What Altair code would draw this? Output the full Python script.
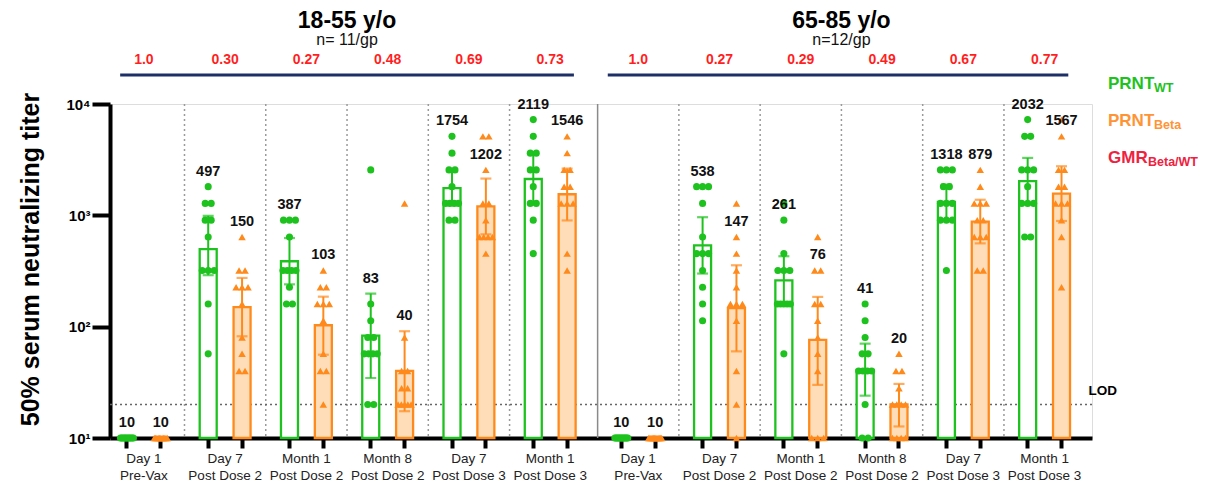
import altair as alt
import pandas as pd

# ---------------- data ----------------
group_keys = ["A", "B"]
group_titles = ["18-55 y/o", "65-85 y/o"]
group_sizes = ["n= 11/gp", "n=12/gp"]
tp_line1 = ["Day 1", "Day 7", "Month 1", "Month 8", "Day 7", "Month 1"]
tp_line2 = ["Pre-Vax", "Post Dose 2", "Post Dose 2", "Post Dose 2", "Post Dose 3", "Post Dose 3"]
variants = ["WT", "Beta"]

gmr_labels = {
    "A": ["1.0", "0.30", "0.27", "0.48", "0.69", "0.73"],
    "B": ["1.0", "0.27", "0.29", "0.49", "0.67", "0.77"],
}
gm = {
    ("A", "WT"): [10, 497, 387, 83, 1754, 2119],
    ("A", "Beta"): [10, 150, 103, 40, 1202, 1546],
    ("B", "WT"): [10, 538, 261, 41, 1318, 2032],
    ("B", "Beta"): [10, 147, 76, 20, 879, 1567],
}
ci_lo = {
    ("A", "WT"): [None, 290, 240, 34.6, 1240, 1250],
    ("A", "Beta"): [None, 82, 56, 17.4, 675, 900],
    ("B", "WT"): [None, 300, 159, 24, 920, 1260],
    ("B", "Beta"): [None, 60, 30, 12.7, 560, 890],
}
ci_hi = {
    ("A", "WT"): [None, 990, 625, 198, 2480, 3600],
    ("A", "Beta"): [None, 274, 186, 91, 2140, 2630],
    ("B", "WT"): [None, 962, 429, 70.4, 1890, 3280],
    ("B", "Beta"): [None, 356, 185, 30.6, 1380, 2760],
}
titers = {
    ("A", "WT"): [
        [10] * 11,
        [1810, 1280, 1280, 905, 905, 640, 320, 320, 320, 160, 57],
        [905, 905, 905, 640, 320, 320, 320, 320, 226, 160, 160],
        [2560, 160, 113, 80, 80, 57, 57, 57, 57, 20, 20],
        [5120, 3620, 2560, 2560, 1810, 1280, 1280, 1280, 1280, 905, 905],
        [7240, 5120, 3620, 3620, 2560, 2560, 1810, 1280, 1280, 905, 453],
    ],
    ("A", "Beta"): [
        [10] * 11,
        [640, 320, 320, 226, 226, 226, 160, 80, 57, 40, 40],
        [320, 226, 226, 160, 160, 160, 113, 57, 40, 40, 20],
        [1280, 80, 40, 40, 28, 28, 20, 20, 20, 20, 20],
        [5120, 5120, 2560, 1280, 1280, 905, 640, 640, 640, 640, 453],
        [5120, 3620, 2560, 2560, 1810, 1810, 1280, 1280, 1280, 453, 320],
    ],
    ("B", "WT"): [
        [10] * 12,
        [1810, 1810, 1810, 1280, 640, 453, 453, 453, 320, 226, 160, 113],
        [1280, 905, 453, 320, 320, 320, 160, 160, 160, 160, 160, 57],
        [160, 113, 80, 57, 57, 40, 40, 40, 40, 20, 10, 10],
        [2560, 2560, 2560, 1810, 1810, 1280, 1280, 1280, 905, 905, 905, 320],
        [7240, 5120, 5120, 2560, 2560, 2560, 1810, 1280, 1280, 1280, 640, 640],
    ],
    ("B", "Beta"): [
        [10] * 12,
        [1280, 640, 453, 320, 226, 160, 160, 160, 113, 40, 20, 10],
        [640, 320, 320, 160, 160, 113, 80, 57, 40, 10, 10, 10],
        [57, 40, 40, 28, 20, 20, 20, 20, 10, 10, 10, 10],
        [2560, 1810, 1280, 1280, 1280, 905, 905, 640, 640, 640, 320, 320],
        [7240, 5120, 2560, 2560, 1810, 1810, 1280, 1280, 1280, 905, 640, 226],
    ],
}
LOD = 20
Y_MIN, Y_MAX = 10, 10000

# ---------------- layout / style ----------------
W, H = 982, 334
N_LEAD = {"A": 2, "B": 3}
N_TRAIL = 4
GREEN = "#1EC21E"
ORANGE = "#FF8A1C"
PEACH = "#FFDDB8"
RED = "#FF1F1F"
NAVY = "#1C2F66"
FONT = "Liberation Sans"

# band slots: WT, 4 inner gaps, Beta, 6 outer gaps ...
slots = []
for g in group_keys:
    slots += [f"{g}|lead{j}" for j in range(N_LEAD[g])]
    for k in range(len(tp_line1)):
        slots.append(f"{g}|{k}|WT")
        slots += [f"{g}|{k}|in{j}" for j in range(4)]
        slots.append(f"{g}|{k}|Beta")
        if k < len(tp_line1) - 1:
            slots += [f"{g}|{k}|gap{j}" for j in range(6)]
    slots += [f"{g}|trail{j}" for j in range(N_TRAIL)]
STEP = W / len(slots)

bar_slots = [s for s in slots if s.endswith("|WT") or s.endswith("|Beta")]

# tables built from the arrays
pt_rows, sum_rows = [], []
for g in group_keys:
    for v in variants:
        for k in range(len(tp_line1)):
            slot = f"{g}|{k}|{v}"
            vals = titers[(g, v)][k]
            for val in vals:
                pt_rows.append({"slot": slot, "variant": v, "value": val})
            hi = ci_hi[(g, v)][k] or gm[(g, v)][k]
            cand = [p for p in vals if p <= 2.35 * hi]
            anchor = max(max(cand) if cand else hi, hi)
            sum_rows.append({
                "slot": slot, "variant": v, "gm": gm[(g, v)][k],
                "lo": ci_lo[(g, v)][k], "hi": ci_hi[(g, v)][k],
                "anchor": anchor, "label": str(gm[(g, v)][k]),
            })
points = pd.DataFrame(pt_rows)
summary = pd.DataFrame(sum_rows)
errs = summary.dropna(subset=["lo"])

pair_rows, div_rows, head_rows = [], [], []
for gi, g in enumerate(group_keys):
    for k in range(len(tp_line1)):
        pair_rows.append({"center": f"{g}|{k}|in2", "gmr": gmr_labels[g][k]})
        if k < len(tp_line1) - 1:
            div_rows.append({"slot": f"{g}|{k}|gap3"})
    head_rows.append({
        "mid": f"{g}|2|gap3", "start": f"{g}|lead1", "end": f"{g}|trail0",
        "title": group_titles[gi], "n": group_sizes[gi],
    })
pairs = pd.DataFrame(pair_rows)
dividers = pd.DataFrame(div_rows)
heads = pd.DataFrame(head_rows)
sep = pd.DataFrame({"slot": ["B|lead0"]})
lod_df = pd.DataFrame({"slot": [slots[-1]], "txt": ["LOD"]})

label_lookup = {}
for g in group_keys:
    for k in range(len(tp_line1)):
        label_lookup[f"{g}|{k}|WT"] = [tp_line1[k], tp_line2[k]]

# ---------------- encodings ----------------
xscale = alt.Scale(type="band", domain=slots, paddingInner=0, paddingOuter=0)
label_expr = (
    "indexof(datum.value, '|WT') > 0 ? "
    + "({" + ",".join(f"'{s}': ['{a}', '{b}']" for s, (a, b) in label_lookup.items()) + "})[datum.value] : ''"
)
xaxis = alt.Axis(
    values=bar_slots, title=None, labelExpr=label_expr, labelAngle=0,
    labelOffset=STEP * 2.5, labelOverlap=False, labelFont=FONT, labelFontSize=13.5,
    labelColor="#222", labelLineHeight=17, labelPadding=3, tickSize=10,
    tickWidth=4, tickColor="black", domainWidth=4, domainColor="black", grid=False,
)
yscale = alt.Scale(type="log", domain=[Y_MIN, Y_MAX], nice=False)
yaxis = alt.Axis(
    values=[10, 100, 1000, 10000],
    labelExpr="'10' + ['\u00b9','\u00b2','\u00b3','\u2074'][round(log(datum.value)/LN10) - 1]",
    title="50% serum neutralizing titer", titleFont=FONT, titleFontSize=25,
    titleFontWeight="bold", titleColor="black", titlePadding=22, titleY=155,
    labelFont=FONT, labelFontSize=15, labelFontWeight="bold", labelColor="black",
    labelPadding=2, tickSize=18, tickWidth=4, tickColor="black",
    domainWidth=4, domainColor="black", grid=False,
)


def X(field, **kw):
    return alt.X(field, type="nominal", scale=xscale, axis=xaxis, **kw)


def Y(field, **kw):
    return alt.Y(field, type="quantitative", scale=yscale, axis=yaxis, **kw)


vscale_fill = alt.Scale(domain=variants, range=["white", PEACH])
vscale_col = alt.Scale(domain=variants, range=[GREEN, ORANGE])

dividers_l = alt.Chart(dividers).mark_rule(
    color="#9a9a9a", strokeWidth=1.5, strokeDash=[2, 3]
).encode(x=X("slot", bandPosition=0), y=alt.datum(Y_MAX, scale=yscale, axis=yaxis), y2=alt.datum(Y_MIN))

sep_l = alt.Chart(sep).mark_rule(color="#8a8a8a", strokeWidth=1.5).encode(
    x=X("slot", bandPosition=0), y=alt.datum(Y_MAX, scale=yscale, axis=yaxis), y2=alt.datum(Y_MIN)
)

lod_rule = alt.Chart(lod_df).mark_rule(color="#666", strokeWidth=1.3, strokeDash=[2, 3]).encode(
    y=alt.datum(LOD, scale=yscale, axis=yaxis)
)
lod_txt = alt.Chart(lod_df).mark_text(
    align="left", baseline="bottom", dy=-6, font=FONT, fontSize=13.5, fontWeight="bold", color="black"
).encode(x=X("slot"), y=alt.datum(LOD, scale=yscale, axis=yaxis), text="txt:N")

bars = alt.Chart(summary).transform_filter("datum.gm > 10").mark_bar(width=17, strokeWidth=2.3).encode(
    x=X("slot"), y=Y("gm"), y2=alt.datum(Y_MIN),
    fill=alt.Fill("variant:N", scale=vscale_fill, legend=None),
    stroke=alt.Stroke("variant:N", scale=vscale_col, legend=None),
)

pts = alt.Chart(points).transform_window(
    r="row_number()", groupby=["slot", "value"]
).transform_joinaggregate(
    n="count()", groupby=["slot", "value"]
).transform_calculate(
    jit="datum.n > 1 ? (2 * (datum.r - 1) / (datum.n - 1) - 1) * min(1, (datum.n - 1) * 0.46) : 0"
).mark_point(filled=True, opacity=1, strokeWidth=0).encode(
    x=X("slot"),
    xOffset=alt.XOffset("jit:Q", scale=alt.Scale(domain=[-1, 1], range=[STEP / 2 - 6.5, STEP / 2 + 6.5])),
    y=Y("value"),
    color=alt.Color("variant:N", scale=vscale_col, legend=None),
    shape=alt.Shape("variant:N", scale=alt.Scale(domain=variants, range=["circle", "triangle-up"]), legend=None),
    size=alt.Size("variant:N", scale=alt.Scale(domain=variants, range=[50, 56]), legend=None),
)

err_rule = alt.Chart(errs).mark_rule(strokeWidth=2).encode(
    x=X("slot"), y=Y("lo"), y2="hi", color=alt.Color("variant:N", scale=vscale_col, legend=None)
)
err_lo = alt.Chart(errs).mark_tick(size=11, thickness=2.2).encode(
    x=X("slot"), y=Y("lo"), color=alt.Color("variant:N", scale=vscale_col, legend=None)
)
err_hi = alt.Chart(errs).mark_tick(size=11, thickness=2.2).encode(
    x=X("slot"), y=Y("hi"), color=alt.Color("variant:N", scale=vscale_col, legend=None)
)

gm_txt = alt.Chart(summary).mark_text(
    baseline="alphabetic", dy=-11, font=FONT, fontSize=14.5, fontWeight="bold", color="#111"
).encode(x=X("slot"), y=Y("anchor"), text="label:N")

# header
gmr_txt = alt.Chart(pairs).mark_text(
    baseline="alphabetic", font=FONT, fontSize=14, fontWeight="bold", color=RED
).encode(x=X("center", bandPosition=0), y=alt.value(-40), text="gmr:N")
navy = alt.Chart(heads).mark_rule(color=NAVY, strokeWidth=3).encode(
    x=X("start"), x2="end", y=alt.value(-29)
)
title_txt = alt.Chart(heads).mark_text(
    baseline="alphabetic", font=FONT, fontSize=23, fontWeight="bold", color="black"
).encode(x=X("mid", bandPosition=0), y=alt.value(-76), text="title:N")
n_txt = alt.Chart(heads).mark_text(
    baseline="alphabetic", font=FONT, fontSize=16, color="#111"
).encode(x=X("mid", bandPosition=0), y=alt.value(-59), text="n:N")

# legend (text only, as in the figure)
legend_items = [("PRNT", "WT", GREEN, -15, 46), ("PRNT", "Beta", "#FF9436", 22, 46), ("GMR", "Beta/WT", "#EE2240", 59, 40)]
leg_layers = []
for main, sub, col, yb, wmain in legend_items:
    leg_layers.append(
        alt.Chart(lod_df).mark_text(
            text=main, align="left", baseline="alphabetic", font=FONT, fontSize=17, fontWeight="bold", color=col
        ).encode(x=alt.value(W + 16), y=alt.value(yb))
    )
    leg_layers.append(
        alt.Chart(lod_df).mark_text(
            text=sub, align="left", baseline="alphabetic", font=FONT, fontSize=12.5, fontWeight="bold", color=col
        ).encode(x=alt.value(W + 16 + wmain), y=alt.value(yb + 3))
    )

chart = alt.layer(
    dividers_l, sep_l, lod_rule, bars, pts, err_rule, err_lo, err_hi, gm_txt, lod_txt,
    gmr_txt, navy, title_txt, n_txt, *leg_layers,
).properties(
    width=W, height=H, padding={"left": 10, "top": 2, "right": 0, "bottom": 5}
).configure_view(stroke=None).configure(font=FONT)

chart.save("out.html", embed_options={"renderer": "svg", "actions": False})
